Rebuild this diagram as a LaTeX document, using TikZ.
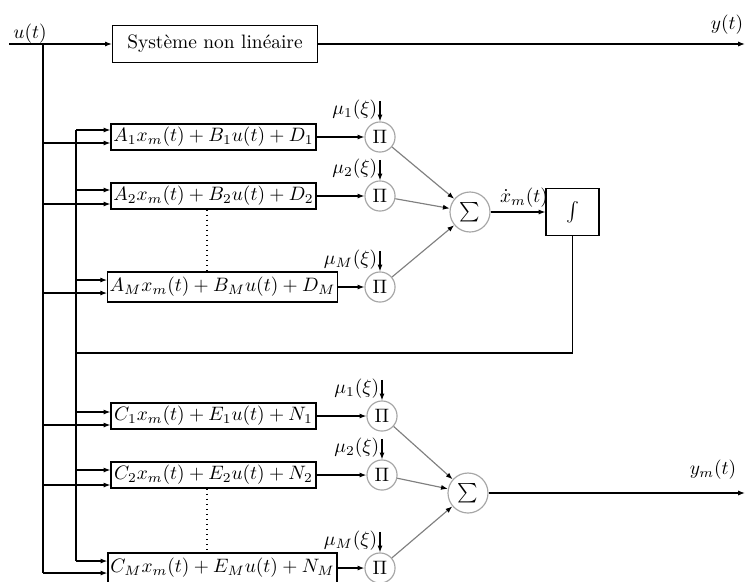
\documentclass[tikz,border=0pt]{standalone}
\usepackage{fontspec}
\usetikzlibrary{arrows.meta}
\begin{document}
\begin{tikzpicture}[x=0.515pt,y=-0.515pt,
  line width=0.6pt,
  >={Latex[length=3.5pt,width=2.6pt]},
  blk/.style={draw, inner sep=1pt, minimum height=13.4pt, minimum width=105.6pt},
  blkw/.style={draw, inner sep=1pt, minimum height=15.5pt, minimum width=118pt},
  prod/.style={circle, draw=gray!70, minimum size=15.5pt, inner sep=0pt},
  sumn/.style={circle, draw=gray!70, minimum size=20.6pt, inner sep=0pt, font=\Large},
  lbl/.style={inner sep=1pt},
  weight/.style={inner sep=0.5pt, anchor=south east},
  grayarrow/.style={draw=gray, -{Latex[length=3.5pt,width=2.6pt,color=black]}},
]
\useasboundingbox (0,0) rectangle (746,581);

% nonlinear plant
\node[draw, minimum width=105.6pt, minimum height=19.1pt] (sys) at (215,44) {Système non linéaire};
\node[lbl] (ulab) at (30,34) {$u(t)$};
\node[lbl] (ylab) at (727,25) {$y(t)$};
\coordinate (uin) at (9,44);
\coordinate (uj) at (43,44);
\coordinate (yout) at (745,44);
\draw[->] (uin) -- (sys);
\draw[->] (sys) -- (yout);

% local state models
\node[blk]  (A1) at (213.5,137) {$A_1x_m(t)+B_1u(t)+D_1$};
\node[blk]  (A2) at (213.5,196) {$A_2x_m(t)+B_2u(t)+D_2$};
\node[blkw] (AM) at (222.5,287) {$A_Mx_m(t)+B_Mu(t)+D_M$};
% local output models
\node[blk]  (C1) at (213.5,416) {$C_1x_m(t)+E_1u(t)+N_1$};
\node[blk]  (C2) at (213.5,475) {$C_2x_m(t)+E_2u(t)+N_2$};
\node[blkw] (CM) at (222.5,568) {$C_Mx_m(t)+E_Mu(t)+N_M$};

% weighting products
\node[prod] (p1) at (380,137) {$\Pi$};
\node[prod] (p2) at (380,196) {$\Pi$};
\node[prod] (pM) at (380,287) {$\Pi$};
\node[prod] (q1) at (382,416) {$\Pi$};
\node[prod] (q2) at (382,475) {$\Pi$};
\node[prod] (qM) at (380,568) {$\Pi$};

% sums and integrator
\node[sumn] (s1) at (470,212) {$\sum$};
\node[sumn] (s2) at (468,493) {$\sum$};
\node[draw, minimum width=27.3pt, minimum height=24.2pt] (int) at (572.5,212) {$\int$};
\node[lbl] (xdot) at (524,198) {$\dot x_m(t)$};
\node[lbl] (ymlab) at (713,470) {$y_m(t)$};
\coordinate (ymout) at (745,493);

% input and state buses
\coordinate (t43bot) at (43,573);
\coordinate (t76top) at (76,130);
\coordinate (t76bot) at (76,561);
\coordinate (fbl) at (76,353);
\draw (uj) -- (t43bot);
\draw (t76top) -- (t76bot);
\draw (int.south) |- (fbl);

\foreach \b/\yu/\yl in {A1/130/143, A2/190/204, AM/280/293, C1/412/425, C2/470/485, CM/561/573} {
  \coordinate (\b u) at (76,\yu);
  \coordinate (\b l) at (43,\yl);
  \draw[->] (\b u) -- (\b.west |- \b u);
  \draw[->] (\b l) -- (\b.west |- \b l);
}

% model outputs into the products
\foreach \b/\p in {A1/p1, A2/p2, AM/pM, C1/q1, C2/q2, CM/qM}
  \draw[->] (\b) -- (\p);

% membership weights
\foreach \p/\i in {p1/1, p2/2, pM/M, q1/1, q2/2, qM/M} {
  \draw[->] ([yshift=10.5pt]\p.north) -- (\p.north);
  \node[weight] (mu-\p) at ([xshift=-0.6pt]\p.north) {$\mu_{\i}(\xi)$};
}

% products into the sums
\foreach \p in {p1, p2, pM} \draw[grayarrow] (\p) -- (s1);
\foreach \p in {q1, q2, qM} \draw[grayarrow] (\p) -- (s2);

\draw[->] (s1) -- (int);
\draw[->] (s2) -- (ymout);

% ellipses between models
\coordinate (dotx) at (207,0);
\draw[dotted] (A2.south -| dotx) -- (AM.north -| dotx);
\draw[dotted] (C2.south -| dotx) -- (CM.north -| dotx);
\end{tikzpicture}
\end{document}
